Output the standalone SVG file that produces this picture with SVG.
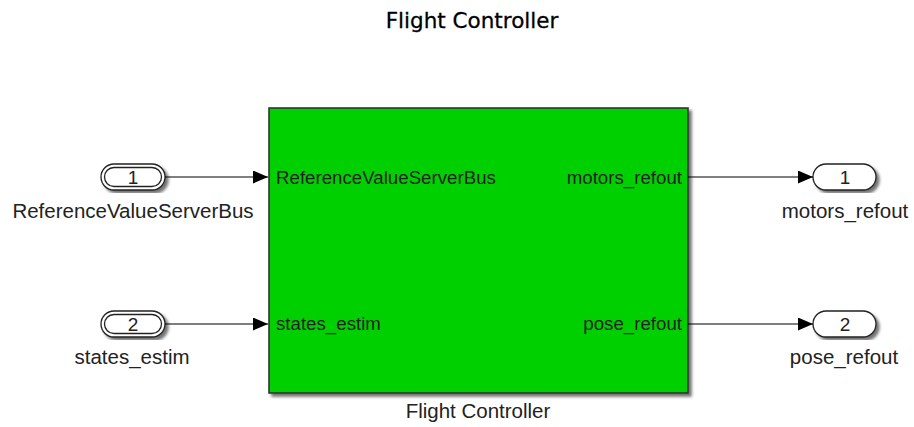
<svg xmlns="http://www.w3.org/2000/svg" width="914" height="427" viewBox="0 0 914 427">
  <defs>
    <marker id="arrow" markerWidth="15" markerHeight="13" refX="15" refY="6.5" orient="auto" markerUnits="userSpaceOnUse">
      <path d="M0,0 L15,6.5 L0,13 Z" fill="#000"/>
    </marker>
    <filter id="shadow" x="-10%" y="-10%" width="120%" height="120%">
      <feGaussianBlur in="SourceAlpha" stdDeviation="1.5"/>
      <feOffset dx="2.5" dy="2.5" result="blur"/>
      <feComponentTransfer><feFuncA type="linear" slope="0.55"/></feComponentTransfer>
      <feMerge><feMergeNode/><feMergeNode in="SourceGraphic"/></feMerge>
    </filter>
  </defs>
  <style>
    text { font-family: "Liberation Sans", Arial, sans-serif; fill: #222; }
    .lbl { font-size: 20.5px; text-anchor: middle; }
    .port { font-size: 18.7px; }
    .num { font-size: 19px; text-anchor: middle; }
    .title { font-family: "DejaVu Sans", Verdana, sans-serif; font-size: 21.5px; text-anchor: middle; fill: #000; stroke: #000; stroke-width: 0.3; }
    .pill { fill: #fff; stroke: #222; stroke-width: 1.3; }
    .wire { stroke: #000; stroke-width: 1.2; fill: none; marker-end: url(#arrow); }
  </style>

  <text class="title" x="472" y="28">Flight Controller</text>

  <!-- subsystem block -->
  <g id="flight_controller">
    <rect x="269" y="108" width="419" height="285" fill="#00d000" stroke="#333" stroke-width="1.6" filter="url(#shadow)"/>
    <text class="port" x="276" y="184">ReferenceValueServerBus</text>
    <text class="port" x="276" y="330">states_estim</text>
    <text class="port" x="682" y="184" text-anchor="end">motors_refout</text>
    <text class="port" x="682" y="330" text-anchor="end">pose_refout</text>
    <text class="lbl" x="478" y="418">Flight Controller</text>
  </g>

  <!-- inports -->
  <g id="in1">
    <rect class="pill" x="101" y="164" width="64" height="26" rx="13" filter="url(#shadow)"/>
    <rect class="pill" x="104.5" y="167.5" width="57" height="19" rx="9.5"/>
    <text class="num" x="133" y="184">1</text>
    <text class="lbl" x="133" y="218">ReferenceValueServerBus</text>
  </g>
  <g id="in2">
    <rect class="pill" x="101" y="311" width="64" height="26" rx="13" filter="url(#shadow)"/>
    <rect class="pill" x="104.5" y="314.5" width="57" height="19" rx="9.5"/>
    <text class="num" x="133" y="331">2</text>
    <text class="lbl" x="132" y="364">states_estim</text>
  </g>

  <!-- outports -->
  <g id="out1">
    <rect class="pill" x="813" y="164" width="63" height="26" rx="13" filter="url(#shadow)"/>
    <text class="num" x="845" y="184">1</text>
    <text class="lbl" x="845" y="218">motors_refout</text>
  </g>
  <g id="out2">
    <rect class="pill" x="813" y="311" width="63" height="26" rx="13" filter="url(#shadow)"/>
    <text class="num" x="845" y="331">2</text>
    <text class="lbl" x="844" y="364">pose_refout</text>
  </g>

  <!-- signal lines -->
  <g id="connectors">
    <line class="wire" x1="165" y1="177" x2="268" y2="177"/>
    <line class="wire" x1="165" y1="324" x2="268" y2="324"/>
    <line class="wire" x1="688" y1="177" x2="813" y2="177"/>
    <line class="wire" x1="688" y1="324" x2="813" y2="324"/>
  </g>
</svg>
